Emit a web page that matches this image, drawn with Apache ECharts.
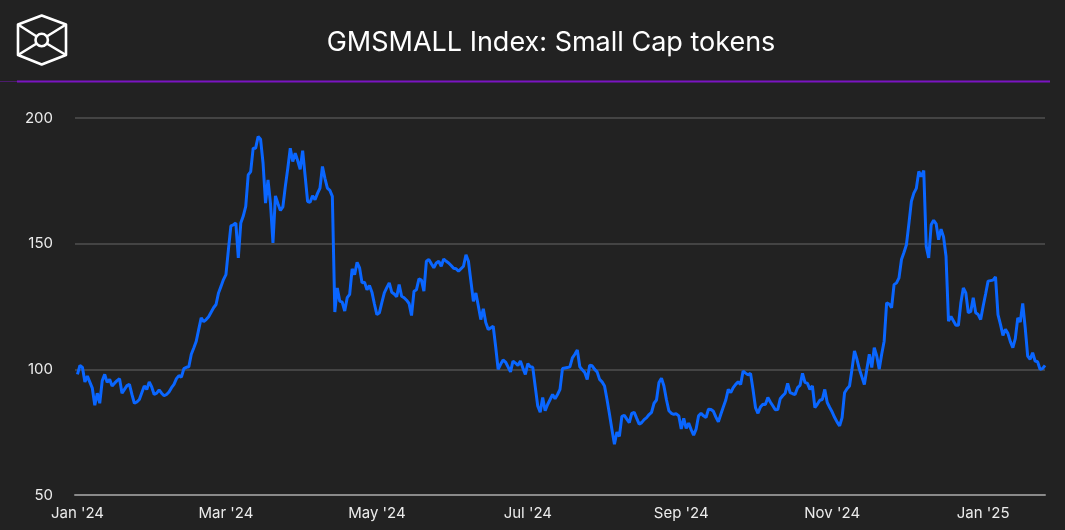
<!DOCTYPE html>
<html>
<head>
<meta charset="utf-8">
<style>
  html, body { margin: 0; padding: 0; background: #222222; }
  #chart { width: 1065px; height: 530px; }
</style>
<script src="https://cdn.jsdelivr.net/npm/echarts@6/dist/echarts.min.js"></script>
</head>
<body>
<div id="chart"></div>
<script>
// day offsets from 1 Jan 2024
var days = [
  0, 1, 2, 3, 4, 6, 7, 8, 9, 10, 11, 12, 13, 14, 15, 16, 17, 18, 19, 20,
  21, 22, 23, 24, 25, 27, 28, 29, 30, 31, 32, 33, 34, 35, 36, 37, 38, 39, 40, 41,
  42, 43, 44, 45, 46, 47, 48, 49, 50, 51, 52, 53, 55, 56, 57, 58, 59, 60, 61, 62,
  63, 64, 65, 66, 67, 68, 69, 70, 71, 72, 73, 74, 75, 76, 77, 78, 79, 80, 81, 82,
  83, 84, 85, 86, 87, 88, 89, 90, 91, 92, 93, 94, 95, 96, 97, 98, 99, 100, 101, 102,
  103, 104, 105, 106, 107, 108, 109, 110, 111, 112, 113, 114, 115, 116, 117, 118, 119, 120, 121, 122,
  123, 124, 125, 126, 127, 128, 129, 130, 131, 132, 133, 134, 135, 136, 137, 138, 139, 140, 141, 142,
  143, 144, 145, 146, 147, 148, 149, 150, 151, 152, 153, 154, 155, 156, 157, 158, 159, 160, 161, 162,
  163, 164, 165, 166, 167, 168, 169, 170, 171, 172, 173, 174, 175, 176, 177, 178, 179, 180, 181, 182,
  183, 184, 185, 186, 187, 188, 189, 190, 191, 192, 193, 194, 195, 196, 197, 198, 199, 200, 201, 202,
  203, 204, 205, 206, 207, 208, 209, 210, 211, 212, 213, 214, 215, 216, 217, 218, 219, 220, 221, 222,
  223, 224, 225, 226, 227, 228, 229, 230, 231, 232, 233, 234, 235, 236, 237, 238, 239, 240, 241, 242,
  243, 244, 245, 246, 247, 248, 249, 250, 251, 252, 253, 254, 255, 256, 257, 258, 259, 260, 261, 262,
  263, 264, 265, 266, 267, 268, 269, 270, 271, 272, 273, 274, 275, 276, 277, 278, 279, 280, 281, 282,
  283, 284, 285, 286, 287, 288, 289, 290, 291, 292, 293, 294, 295, 296, 297, 298, 299, 300, 301, 302,
  303, 304, 305, 306, 307, 308, 309, 310, 311, 312, 313, 314, 315, 316, 317, 318, 319, 320, 321, 322,
  323, 324, 325, 326, 327, 328, 329, 330, 331, 332, 333, 334, 335, 336, 337, 338, 339, 340, 341, 342,
  343, 344, 345, 346, 347, 348, 349, 350, 351, 352, 353, 355, 356, 357, 358, 359, 360, 361, 362, 363,
  364, 365, 366, 367, 368, 370, 371, 372, 373, 374, 375, 376, 377, 378, 379, 380, 381, 382, 383, 384,
  385, 386, 387, 388, 389, 390, 391
];

// GMSMALL index level
var values = [
  98, 101.6, 100.8, 95, 97.3, 92.5, 85.7, 90.5, 86.5, 95.4, 98, 94.8, 96, 93.4, 94.5, 95.5, 96.3, 90.5, 92, 93.5,
  94, 90, 86.5, 87, 88, 93.4, 92, 95, 93, 90, 90.5, 91.8, 90.5, 89.5, 90, 91, 92.7, 94, 96.3, 97.5,
  96.9, 100.3, 100.8, 101, 106, 108.5, 111.2, 115.9, 120.5, 119, 119.8, 120.9, 124.5, 125.8, 130.4, 133, 135.7, 137.7, 147.6, 157.1,
  157.5, 158.2, 144.3, 158.2, 161, 164.8, 177.4, 178.7, 188, 188, 192.6, 191.5, 182, 166.1, 175.4, 166, 150.3, 169, 166, 163.2,
  164.6, 172.8, 180, 188, 182.7, 186, 183, 179.6, 187, 177, 166.8, 166.5, 169, 167.5, 170, 172.1, 180.7, 176, 172.1, 171.2,
  168.8, 122.8, 132.4, 127.1, 126.7, 123.2, 128.5, 129.8, 140, 137.7, 142.6, 140.4, 134.4, 134.7, 131.7, 133.3, 130.7, 126, 121.8, 122.5,
  126.5, 130.4, 132.5, 134.4, 130.7, 130, 128.9, 133.7, 129.1, 128.5, 127.5, 126.2, 121.4, 131.1, 131.7, 136, 135.5, 131.1, 143, 143.7,
  142, 140.4, 142.3, 143, 141, 143.9, 143, 142.3, 141.3, 140.2, 140, 139, 140, 141, 145.6, 143, 135, 127.1, 130.4, 125.2,
  119.8, 124.1, 118.6, 115.9, 116.5, 117.2, 109, 100, 102, 103.7, 102.9, 101, 99, 103.3, 102.5, 101.5, 103.3, 100.5, 98, 102.3,
  101, 100.8, 93, 85.4, 82.9, 88.8, 83.5, 86, 88, 90, 88.3, 90, 92, 100.3, 100.5, 100.7, 101, 104.6, 106, 107.7,
  101, 99.8, 98.7, 96, 101.6, 101.4, 100, 99, 96, 95, 93.4, 88, 82.1, 76, 70.2, 75, 73.3, 81.3, 81.7, 80.2,
  78.8, 82.5, 82.9, 80.5, 78.2, 78.8, 80, 80.8, 82, 82.9, 86.5, 87.8, 94.8, 96.5, 93.4, 88, 83.5, 82.5, 82.1, 82.3,
  81.5, 76.3, 80.5, 76.5, 78.6, 76, 73.8, 76.2, 81.5, 82.5, 81.5, 80.8, 84.1, 84, 83.3, 81, 79.1, 82.1, 85, 87.8,
  92, 90.7, 92.7, 94, 95, 94, 99.3, 98.5, 97.8, 98.4, 92, 84.8, 82.5, 85, 86.1, 86, 88.8, 87, 85.5, 83.9,
  84, 88.3, 89.5, 90.5, 94.4, 90.7, 90.3, 90, 92.7, 93.6, 98.4, 94.8, 94.4, 92, 93.4, 84.8, 86.1, 87.7, 88, 92,
  86.8, 84.8, 83, 80.8, 79, 77.5, 80.8, 90.7, 92.3, 93.4, 100, 107.3, 104, 100, 97, 94, 100, 106, 100.7, 108.6,
  105.3, 100, 106, 111.2, 126.5, 126, 124.5, 133.7, 134.4, 136.4, 143.7, 146.5, 149.6, 158, 166.8, 170.1, 172, 178.7, 176.7, 179.1,
  148.9, 144.3, 157.5, 159.3, 157.9, 151.6, 155.8, 152.7, 145, 119.2, 121, 117.5, 117.5, 126.5, 132.4, 130.4, 122.5, 123, 128.5, 122.5,
  121.8, 119.8, 125.1, 130, 135.1, 135.5, 136.8, 121.8, 117.9, 113.5, 115.9, 114.3, 111, 108.6, 112.2, 120.5, 118.8, 126.2, 116.6, 105.3,
  104, 106.6, 103.3, 103, 100, 100.3, 101.6
];

var yTicks = [50, 100, 150, 200];
var monthNames = ['Jan', 'Feb', 'Mar', 'Apr', 'May', 'Jun', 'Jul', 'Aug', 'Sep', 'Oct', 'Nov', 'Dec'];
var xLabelDates = [[2024, 0], [2024, 2], [2024, 4], [2024, 6], [2024, 8], [2024, 10], [2025, 0]];

var DAY = 86400000;
var start = Date.UTC(2024, 0, 1);

function dayOf(y, m) {
    return Math.round((Date.UTC(y, m, 1) - start) / DAY);
}

var seriesData = [];
for (var i = 0; i < days.length; i++) {
    seriesData.push([days[i], values[i]]);
}
var xLabelDays = xLabelDates.map(function (d) { return dayOf(d[0], d[1]); });

var chart = echarts.init(document.getElementById('chart'));

var hx = 41.7, hy = 40;
var options = {
    backgroundColor: '#222222',
    animation: false,
    title: {
        text: 'GMSMALL Index: Small Cap tokens',
        left: 546,
        textAlign: 'center',
        top: 24,
        textStyle: {
            color: '#ffffff',
            fontFamily: 'Inter',
            fontSize: 27,
            fontWeight: 'normal'
        }
    },
    graphic: [
        // header divider
        {type: 'line', shape: {x1: 0, y1: 81.5, x2: 17, y2: 81.5}, style: {stroke: '#4b1c6b', lineWidth: 1}},
        {type: 'line', shape: {x1: 17, y1: 81.5, x2: 1050, y2: 81.5}, style: {stroke: '#7b14c2', lineWidth: 2}},
        // logo
        {
            type: 'polygon',
            shape: {points: [[hx, 15.5], [66, 24.5], [66, 55], [hx, 64.5], [18, 55], [18, 24.5]]},
            style: {fill: 'none', stroke: '#ffffff', lineWidth: 2.6, lineJoin: 'round'}
        },
        {type: 'line', shape: {x1: 18, y1: 24.5, x2: hx - 5, y2: hy - 3.5}, style: {stroke: '#fff', lineWidth: 2.6}},
        {type: 'line', shape: {x1: 66, y1: 24.5, x2: hx + 5, y2: hy - 3.5}, style: {stroke: '#fff', lineWidth: 2.6}},
        {type: 'line', shape: {x1: 18, y1: 55, x2: hx - 5, y2: hy + 3.5}, style: {stroke: '#fff', lineWidth: 2.6}},
        {type: 'line', shape: {x1: 66, y1: 55, x2: hx + 5, y2: hy + 3.5}, style: {stroke: '#fff', lineWidth: 2.6}},
        {type: 'circle', shape: {cx: hx, cy: hy, r: 6.2}, style: {fill: 'none', stroke: '#fff', lineWidth: 2.6}}
    ],
    grid: {
        left: 75,
        right: 20,
        top: 118,
        bottom: 35,
        containLabel: false
    },
    xAxis: {
        type: 'value',
        min: -1,
        max: 391,
        axisLine: {show: true, lineStyle: {color: '#8a8a8a', width: 2}},
        axisTick: {show: false},
        splitLine: {show: false},
        axisLabel: {
            customValues: xLabelDays,
            color: '#ececec',
            fontFamily: 'Inter',
            fontSize: 15,
            margin: 11,
            formatter: function (v) {
                var d = new Date(start + v * DAY);
                return monthNames[d.getUTCMonth()] + " '" + String(d.getUTCFullYear()).slice(2);
            }
        }
    },
    yAxis: {
        type: 'value',
        min: yTicks[0],
        max: yTicks[yTicks.length - 1],
        interval: 50,
        axisLine: {show: false},
        axisTick: {show: false},
        splitLine: {lineStyle: {color: '#505050', width: 1.5}},
        axisLabel: {
            color: '#ececec',
            fontFamily: 'Inter',
            fontSize: 15,
            margin: 22
        }
    },
    series: [
        {
            type: 'line',
            data: seriesData,
            showSymbol: false,
            lineStyle: {color: '#0a66ff', width: 3},
            z: 3
        }
    ]
};

chart.setOption(options);
</script>
</body>
</html>
